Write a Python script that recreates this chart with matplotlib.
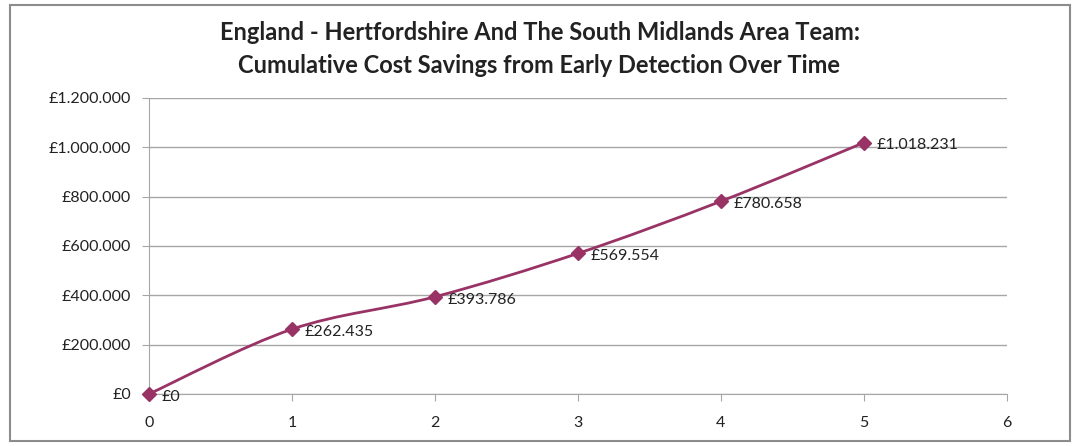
import numpy as np
import matplotlib
matplotlib.use("Agg")
import matplotlib.pyplot as plt
from matplotlib.path import Path
from matplotlib.patches import PathPatch, Rectangle

# data
years = [0, 1, 2, 3, 4, 5]
savings = [0, 262435, 393786, 569554, 780658, 1018231]
yticks = [0, 200000, 400000, 600000, 800000, 1000000, 1200000]

plum = '#993366'
grid_col = '#a6a6a6'
plt.rcParams['font.family'] = ['Lato', 'DejaVu Sans']


def money(v):
    # Excel-style thousands separator with dots
    return '£' + '{:,}'.format(int(v)).replace(',', '.')


def smooth_path(xs, ys):
    # Catmull-Rom style bezier, like Excel's "smoothed line"
    pts = np.column_stack([xs, ys]).astype(float)
    verts = [pts[0]]
    codes = [Path.MOVETO]
    n = len(pts)
    for i in range(n - 1):
        p0 = pts[i - 1] if i > 0 else pts[i]
        p1 = pts[i]
        p2 = pts[i + 1]
        p3 = pts[i + 2] if i + 2 < n else pts[i + 1]
        c1 = p1 + (p2 - p0) / 6.0
        c2 = p2 - (p3 - p1) / 6.0
        verts += [c1, c2, p2]
        codes += [Path.CURVE4] * 3
    return Path(verts, codes)


fig = plt.figure(figsize=(10.79, 4.46), dpi=100)
ax = fig.add_axes([0.138, 0.1166, 0.795, 0.664])

# outer chart border
fig.patches.append(Rectangle((0.009, 0.011), 0.983, 0.978, transform=fig.transFigure,
                             fill=False, edgecolor='#8c8c8c', lw=1.5))

ax.add_patch(PathPatch(smooth_path(years, savings), fill=False, edgecolor=plum, lw=2, zorder=3))
ax.plot(years, savings, linestyle='none', marker='D', markersize=7.5, color=plum, zorder=4, clip_on=False)

for x, y in zip(years, savings):
    ax.annotate(money(y), (x, y), xytext=(9, -2), textcoords='offset points',
                ha='left', va='center', fontsize=11.5, color='#222222')

ax.set_xlim(0, 6)
ax.set_ylim(0, 1200000)
ax.set_yticks(yticks)
ax.set_yticklabels([money(v) for v in yticks])
ax.set_xticks(range(7))
ax.yaxis.grid(True, color=grid_col, lw=1)
ax.set_axisbelow(True)

for s in ['top', 'right']:
    ax.spines[s].set_visible(False)
ax.spines['left'].set_color(grid_col)
ax.spines['bottom'].set_color(grid_col)
ax.tick_params(axis='both', colors=grid_col, labelcolor='#222222', labelsize=11.5, length=5)
ax.tick_params(axis='y', pad=8)
ax.tick_params(axis='x', pad=11)

fig.text(0.5, 0.89, 'England - Hertfordshire And The South Midlands Area Team:\n'
         'Cumulative Cost Savings from Early Detection Over Time',
         ha='center', va='center', fontsize=17, fontweight='bold', color='#222222',
         linespacing=1.5)

fig.savefig('out.png', dpi=100)
